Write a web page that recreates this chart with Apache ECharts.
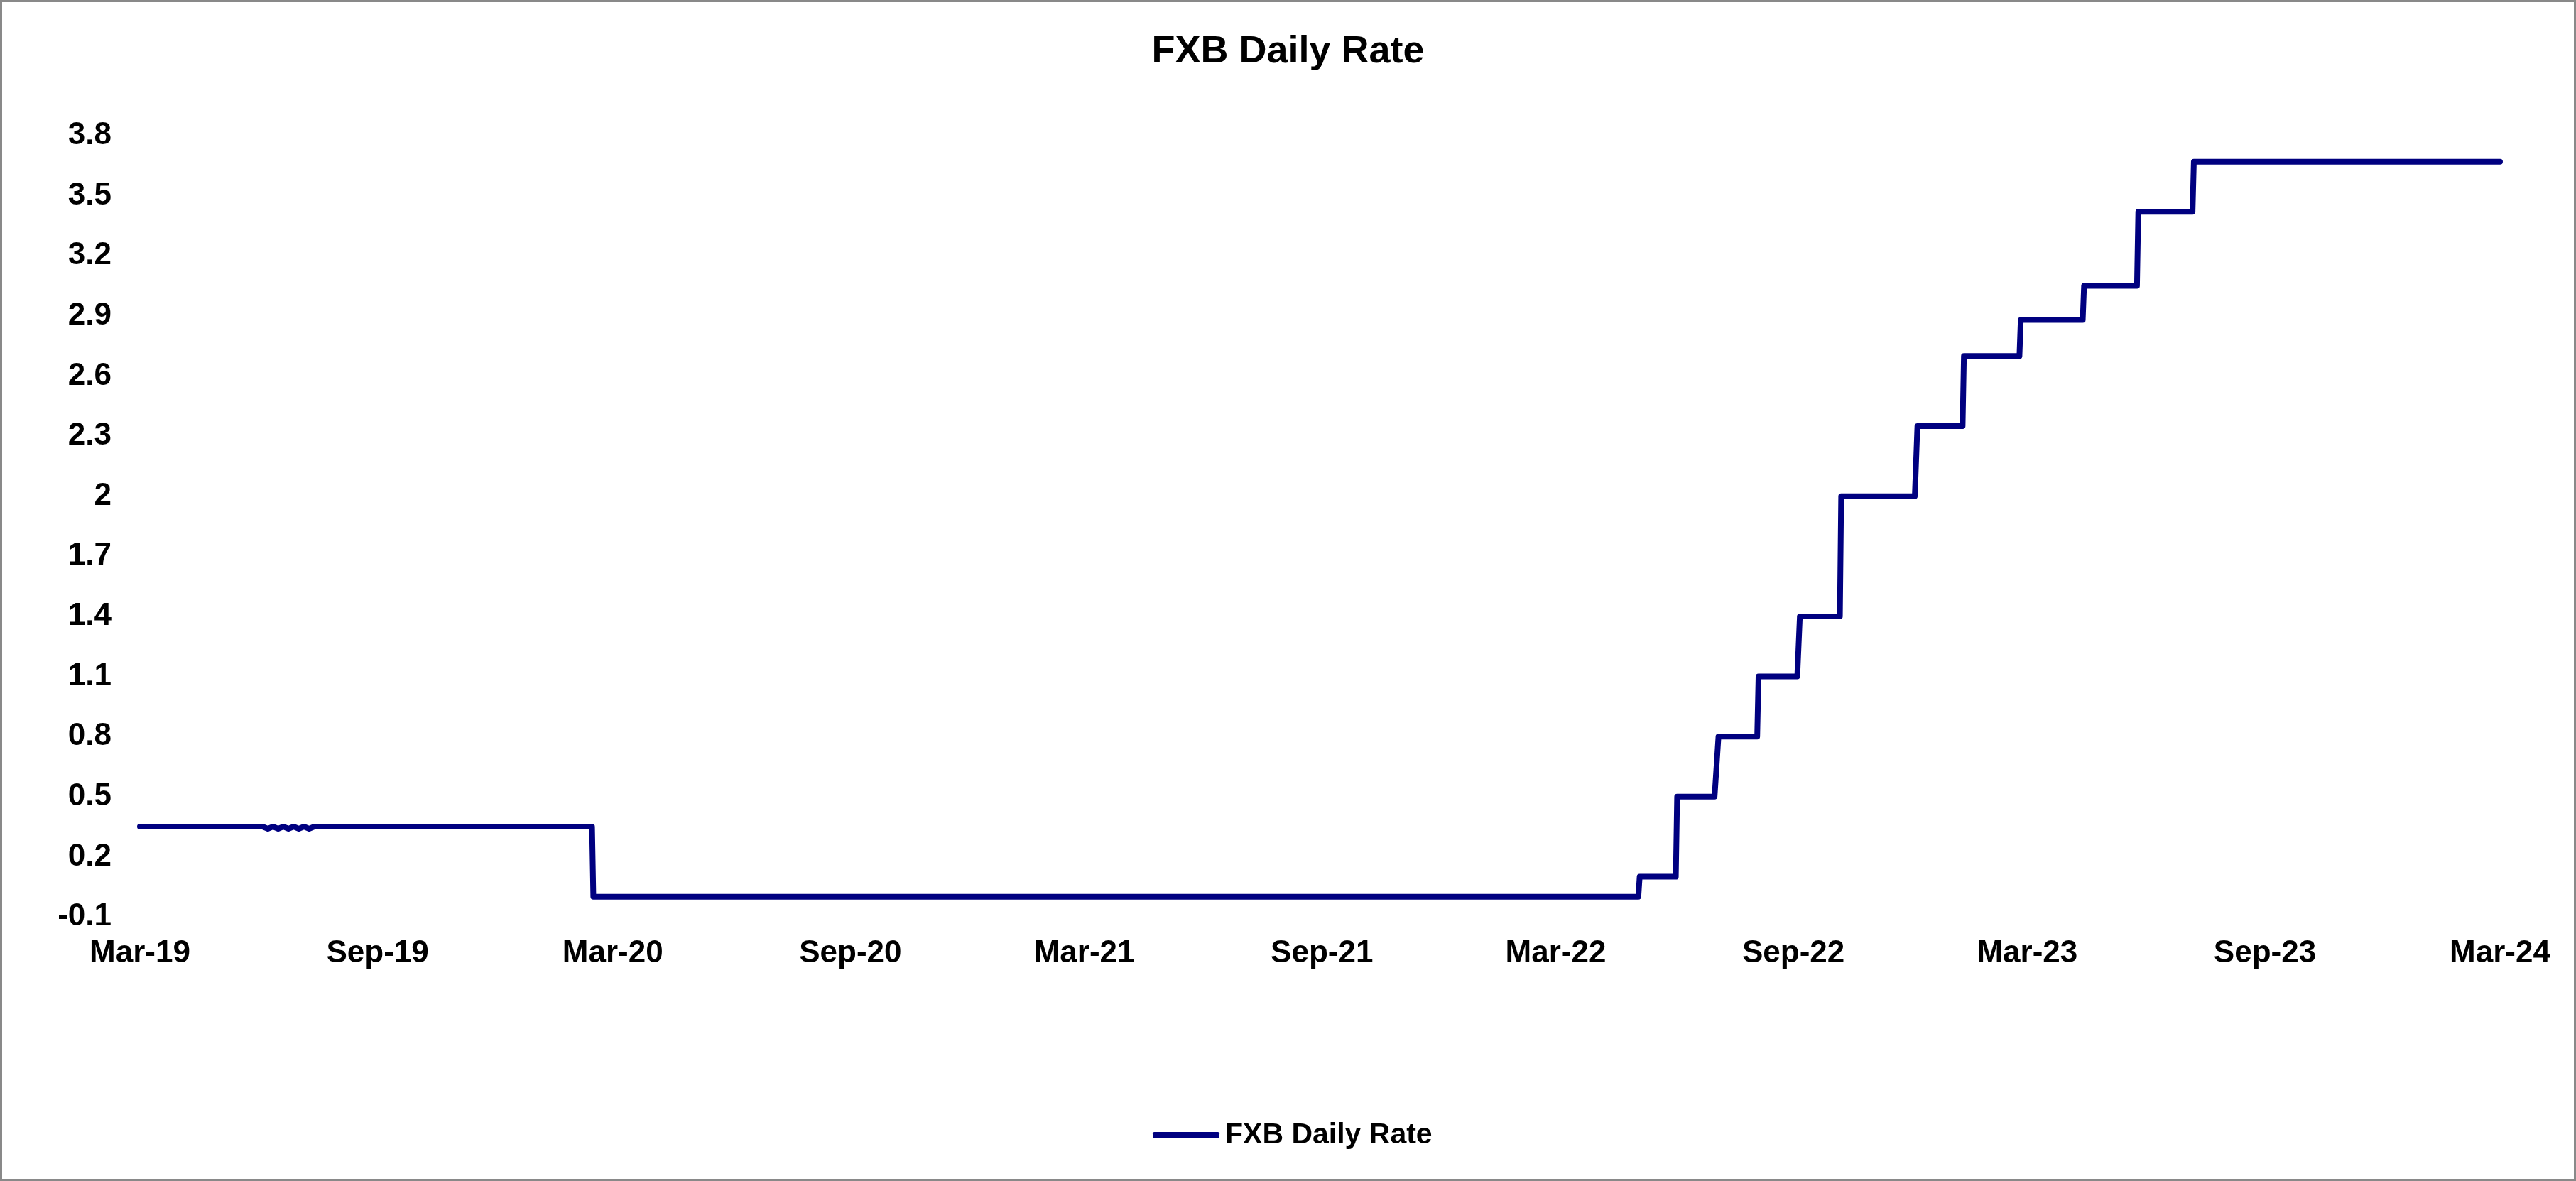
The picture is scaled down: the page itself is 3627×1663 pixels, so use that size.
<!DOCTYPE html>
<html>
<head>
<meta charset="utf-8">
<script src="https://cdn.jsdelivr.net/npm/echarts@6/dist/echarts.min.js"></script>
<style>
html,body{margin:0;padding:0;background:#fff;}
#chart{width:3627px;height:1663px;}
</style>
</head>
<body>
<div id="chart"></div>
<script>
// ---- data ----
const seriesName = 'FXB Daily Rate';
const dates = [
  '2019-03-01','2019-06-04','2019-06-08','2019-06-12','2019-06-16','2019-06-20',
  '2019-06-24','2019-06-28','2019-07-02','2019-07-06','2019-07-10','2019-07-14',
  '2020-02-14','2020-02-15',
  '2022-05-04','2022-05-05','2022-06-02','2022-06-03','2022-07-02','2022-07-05',
  '2022-08-04','2022-08-05','2022-09-04','2022-09-06','2022-10-07','2022-10-08',
  '2022-12-04','2022-12-06','2023-01-10','2023-01-11','2023-02-23','2023-02-24',
  '2023-04-13','2023-04-14','2023-05-25','2023-05-26','2023-07-07','2023-07-08',
  '2024-03-01'
];
const rates = [
  0.35,0.35,0.34,0.35,0.34,0.35,
  0.34,0.35,0.34,0.35,0.34,0.35,
  0.35,0.0,
  0.0,0.1,0.1,0.5,0.5,0.8,
  0.8,1.1,1.1,1.4,1.4,2.0,
  2.0,2.35,2.35,2.7,2.7,2.88,
  2.88,3.05,3.05,3.42,3.42,3.67,
  3.67
];
const xTickDates = ['2019-03-01','2019-09-01','2020-03-01','2020-09-01','2021-03-01','2021-09-01',
  '2022-03-01','2022-09-01','2023-03-01','2023-09-01','2024-03-01'];
const xTickLabels = ['Mar-19','Sep-19','Mar-20','Sep-20','Mar-21','Sep-21',
  'Mar-22','Sep-22','Mar-23','Sep-23','Mar-24'];
const yTicks = [-0.1,0.2,0.5,0.8,1.1,1.4,1.7,2,2.3,2.6,2.9,3.2,3.5,3.8];
const yTickLabels = ['-0.1','0.2','0.5','0.8','1.1','1.4','1.7','2','2.3','2.6','2.9','3.2','3.5','3.8'];

// day number (UTC) so that the value axis is linear in days
function dayNum(s){ const p = s.split('-').map(Number); return Date.UTC(p[0], p[1]-1, p[2]) / 86400000; }

const seriesData = dates.map((d,i)=>[dayNum(d), rates[i]]);
const xTickVals = xTickDates.map(dayNum);

function nearestLabel(vals, labels, v){
  let best=0, bd=Infinity;
  vals.forEach((t,i)=>{const d=Math.abs(t-v); if(d<bd){bd=d;best=i;}});
  return labels[best];
}

const FONT = '"Liberation Sans", Arial, sans-serif';
const chart = echarts.init(document.getElementById('chart'), null, {renderer:'canvas'});
chart.setOption({
  backgroundColor:'#ffffff',
  animation:false,
  title:{
    text: seriesName,
    left:'center', top:46, padding:0,
    textStyle:{fontFamily:FONT, fontWeight:'bold', fontSize:54, color:'#000'}
  },
  legend:{
    data:[seriesName],
    left:1623, top:1578, padding:0,
    icon:'roundRect', itemWidth:94, itemHeight:9,
    textStyle:{fontFamily:FONT, fontWeight:'bold', fontSize:41, color:'#000', padding:[0,0,0,3]}
  },
  grid:{left:197, right:107, top:191, bottom:372, containLabel:false},
  xAxis:{
    type:'value',
    min: xTickVals[0], max: xTickVals[xTickVals.length-1],
    axisLine:{show:false}, axisTick:{show:false}, splitLine:{show:false},
    axisLabel:{
      customValues: xTickVals,
      margin:30,
      fontFamily:FONT, fontWeight:'bold', fontSize:44, color:'#000',
      formatter:function(v){ return nearestLabel(xTickVals, xTickLabels, v); }
    }
  },
  yAxis:{
    type:'value',
    min:-0.1, max:3.8,
    axisLine:{show:false}, axisTick:{show:false}, splitLine:{show:false},
    axisLabel:{
      customValues: yTicks,
      margin:40,
      fontFamily:FONT, fontWeight:'bold', fontSize:44, color:'#000',
      formatter:function(v){ return nearestLabel(yTicks, yTickLabels, v); }
    }
  },
  series:[{
    name: seriesName,
    type:'line',
    data: seriesData,
    symbol:'none',
    itemStyle:{color:'#000080'},
    lineStyle:{color:'#000080', width:8, cap:'round', join:'round'}
  }],
  graphic:[{
    type:'rect', silent:true, z:100,
    shape:{x:1.5, y:1.5, width:3624, height:1660},
    style:{fill:'none', stroke:'#898989', lineWidth:3}
  }]
});
</script>
</body>
</html>
